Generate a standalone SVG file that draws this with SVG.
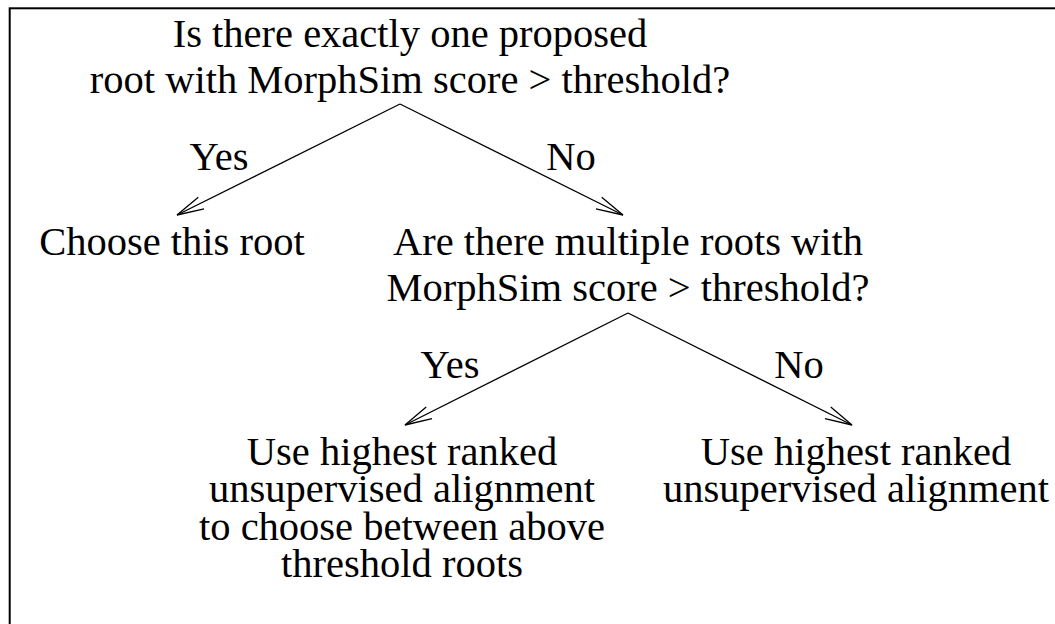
<svg xmlns="http://www.w3.org/2000/svg" width="1055" height="624" viewBox="0 0 1055 624">
  <style>
    text { font-family: "Liberation Serif", "Times New Roman", serif; font-size: 40.5px; fill: #000; text-anchor: middle; }
    .edge { stroke: #000; stroke-width: 1.3; fill: none; }
    .frame { stroke: #000; stroke-width: 2; fill: #fff; }
  </style>
  <defs>
    <marker id="arrow" markerUnits="userSpaceOnUse" markerWidth="40" markerHeight="20" viewBox="-30 -10 40 20" refX="0" refY="0" orient="auto" overflow="visible">
      <path d="M -27 -6.5 L 0 0 L -27 6.5" fill="none" stroke="#000" stroke-width="1.3"/>
    </marker>
  </defs>
  <rect width="1055" height="624" fill="#fff"/>
  <rect class="frame" x="9.7" y="8.3" width="1100" height="700"/>

  <g id="connectors">
    <line class="edge" x1="400" y1="104" x2="177" y2="215" marker-end="url(#arrow)"/>
    <line class="edge" x1="400" y1="104" x2="623" y2="215" marker-end="url(#arrow)"/>
    <line class="edge" x1="628" y1="313" x2="405" y2="425" marker-end="url(#arrow)"/>
    <line class="edge" x1="628" y1="313" x2="852" y2="425" marker-end="url(#arrow)"/>
    <text x="219" y="170">Yes</text>
    <text x="571" y="170">No</text>
    <text x="450" y="378">Yes</text>
    <text x="799" y="378">No</text>
  </g>

  <g id="q1">
    <text x="410" y="47">Is there exactly one proposed</text>
    <text x="410" y="93">root with MorphSim score &gt; threshold?</text>
  </g>
  <g id="choose">
    <text x="172" y="255">Choose this root</text>
  </g>
  <g id="q2">
    <text x="628" y="255">Are there multiple roots with</text>
    <text x="628" y="301">MorphSim score &gt; threshold?</text>
  </g>
  <g id="yes2">
    <text x="402" y="465">Use highest ranked</text>
    <text x="402" y="502">unsupervised alignment</text>
    <text x="402" y="540">to choose between above</text>
    <text x="402" y="577">threshold roots</text>
  </g>
  <g id="no2">
    <text x="856" y="465">Use highest ranked</text>
    <text x="856" y="502">unsupervised alignment</text>
  </g>
</svg>
